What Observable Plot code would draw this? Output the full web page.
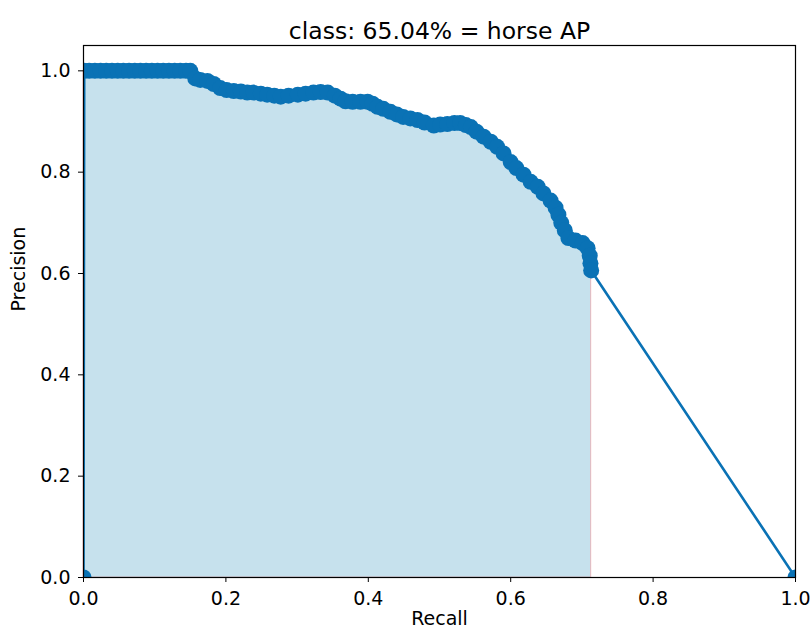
<!DOCTYPE html>
<html>
<head>
<meta charset="utf-8">
<script src="https://cdn.jsdelivr.net/npm/d3@7"></script>
<script src="https://cdn.jsdelivr.net/npm/@observablehq/plot@0.6"></script>
<style>
  html, body { margin: 0; padding: 0; background: #fff; }
  #chart { width: 811px; height: 634px; }
</style>
</head>
<body>
<div id="chart"></div>
<script>
const titleText = "class: 65.04% = horse AP";
const xLabel = "Recall";
const yLabel = "Precision";
const xTicks = [0, 0.2, 0.4, 0.6, 0.8, 1.0];
const yTicks = [0, 0.2, 0.4, 0.6, 0.8, 1.0];

const recall = [
  0,
  0.001, 0.008, 0.016, 0.024, 0.032, 0.040, 0.048, 0.056, 0.064, 0.072, 0.080, 0.088, 0.096, 0.104, 0.112, 0.120,
  0.128, 0.136, 0.144, 0.150,
  0.157, 0.164, 0.174, 0.183, 0.192, 0.201, 0.211, 0.221, 0.230, 0.239, 0.249, 0.258, 0.268, 0.277, 0.288, 0.301,
  0.312, 0.323, 0.333, 0.343, 0.353, 0.361, 0.368, 0.378, 0.389, 0.399, 0.406, 0.413, 0.421, 0.431, 0.440, 0.449,
  0.459, 0.469, 0.479, 0.492, 0.501, 0.511, 0.521, 0.529, 0.537, 0.544, 0.552, 0.562, 0.572, 0.581, 0.590, 0.600,
  0.608, 0.618, 0.628, 0.638, 0.646, 0.656, 0.663, 0.667, 0.671, 0.676, 0.681, 0.691, 0.701, 0.708, 0.711, 0.712, 0.713,
  1.0
];
const precision = [
  0,
  1.0, 1.0, 1.0, 1.0, 1.0, 1.0, 1.0, 1.0, 1.0, 1.0, 1.0, 1.0, 1.0, 1.0, 1.0, 1.0,
  1.0, 1.0, 1.0, 1.0,
  0.985, 0.982, 0.980, 0.974, 0.966, 0.962, 0.960, 0.959, 0.957, 0.957, 0.955, 0.953, 0.951, 0.949, 0.951, 0.953,
  0.955, 0.957, 0.958, 0.957, 0.951, 0.945, 0.940, 0.939, 0.939, 0.939, 0.935, 0.929, 0.925, 0.919, 0.914, 0.909,
  0.906, 0.903, 0.898, 0.892, 0.894, 0.895, 0.897, 0.897, 0.893, 0.889, 0.880, 0.870, 0.860, 0.850, 0.837, 0.820,
  0.808, 0.795, 0.781, 0.771, 0.758, 0.744, 0.730, 0.716, 0.700, 0.685, 0.670, 0.665, 0.660, 0.650, 0.635, 0.620, 0.606,
  0
];

const pts = recall.map((r, i) => ({r, p: precision[i]}));

// interpolated (monotone) precision envelope used for the AP area
const env = precision.slice();
for (let i = env.length - 2; i >= 0; i--) env[i] = Math.max(env[i], env[i + 1]);
const areaPts = [];
for (let i = 0; i < recall.length - 1; i++) areaPts.push({r: recall[i], p: env[i]});
areaPts.push({r: recall[recall.length - 2], p: 0});
areaPts.push({r: recall[recall.length - 1], p: 0});

const blue = "#0a72b5";
const fmt = d3.format(".1f");

const chart = Plot.plot({
  width: 811,
  height: 634,
  marginLeft: 83,
  marginRight: 16,
  marginTop: 45,
  marginBottom: 57,
  style: {fontFamily: "DejaVu Sans", fontSize: "19px", color: "#000", background: "#fff"},
  x: {domain: [0, 1]},
  y: {domain: [0, 1.05]},
  marks: [
    Plot.areaY(areaPts, {x: "r", y: "p", fill: "#c6e1ed", stroke: "red", strokeOpacity: 0.2, strokeWidth: 1.2, curve: "linear"}),
    Plot.line(pts, {x: "r", y: "p", stroke: blue, strokeWidth: 2.6, clip: true}),
    Plot.dot(pts, {x: "r", y: "p", r: 8, fill: blue, stroke: null, clip: true}),
    Plot.frame({stroke: "#000", strokeWidth: 1.2}),
    Plot.axisX({ticks: xTicks, tickFormat: fmt, tickSize: 5, tickPadding: 9, label: null, stroke: "#000"}),
    Plot.axisY({ticks: yTicks, tickFormat: fmt, tickSize: 5, tickPadding: 8, label: null, stroke: "#000"}),
    Plot.text([titleText], {frameAnchor: "top", dy: -23, fontSize: 23.5, fill: "#000"}),
    Plot.text([xLabel], {frameAnchor: "bottom", dy: 47, fill: "#000"}),
    Plot.text([yLabel], {frameAnchor: "left", dx: -65, rotate: -90, fill: "#000"})
  ]
});
document.getElementById("chart").appendChild(chart);
</script>
</body>
</html>
